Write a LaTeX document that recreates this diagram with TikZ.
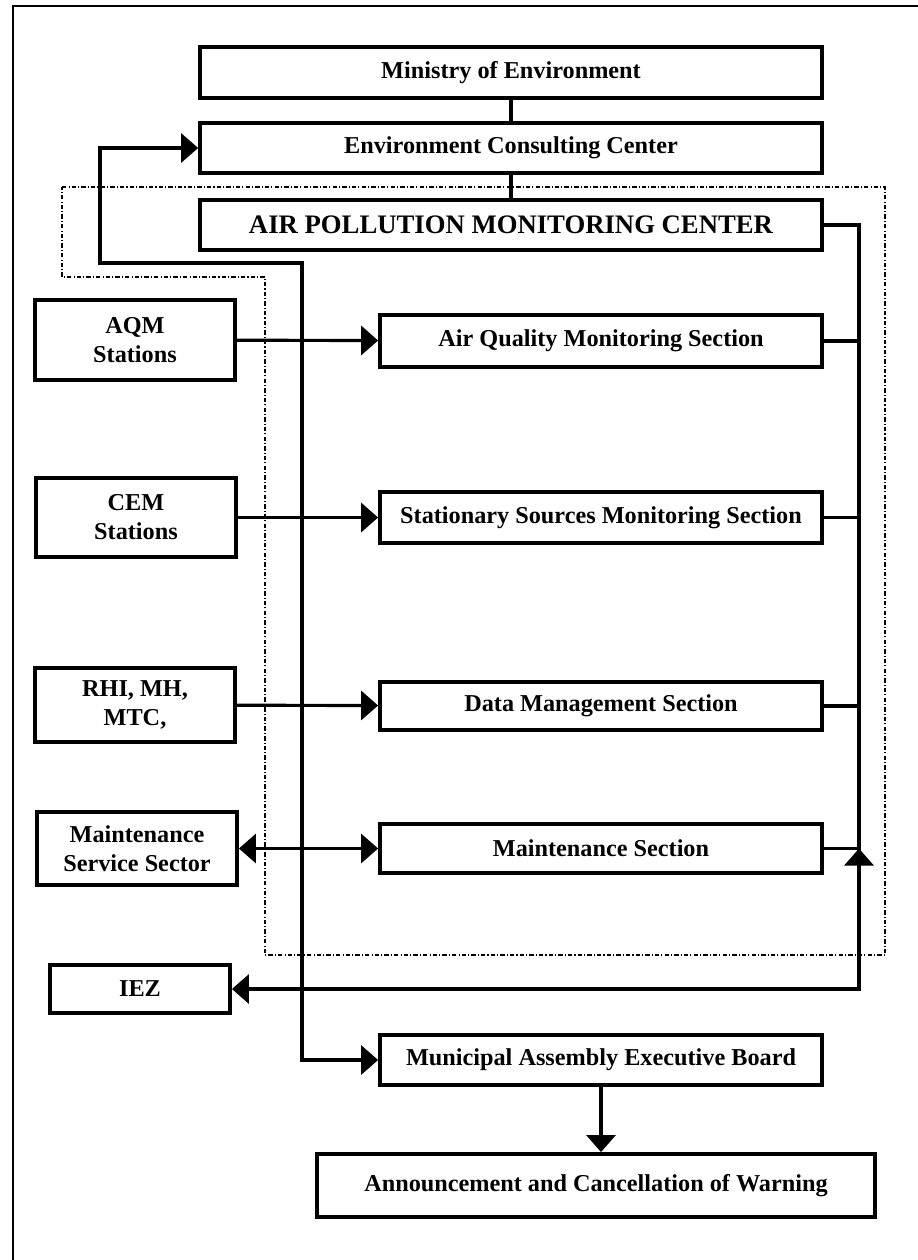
\documentclass[tikz,border=0pt]{standalone}
\usepackage{fontspec}
\setmainfont{Liberation Serif}
\usetikzlibrary{arrows.meta}

\begin{document}
\begin{tikzpicture}[x=0.02cm,y=-0.02cm,
  >={Triangle[length=0.34cm,width=0.58cm]},
  unitbox/.style={draw,line width=2.2pt,align=center,inner sep=2pt,
    font=\bfseries\fontsize{13.8}{16.5}\selectfont},
  widebox/.style={unitbox,minimum width=12.44cm,minimum height=1cm},
  secbox/.style={unitbox,minimum width=8.84cm,minimum height=1cm},
  srcbox/.style={unitbox,minimum width=4cm},
  feed/.style={line width=1.8pt}]
\useasboundingbox (0,0) rectangle (918,1260);

%page frame
\draw[line width=1.7pt] (13,1260) -- (13,6) -- (918,6);

%center boundary
\draw[line width=0.7pt,dash pattern=on 2.5pt off 1.2pt on 0.6pt off 1.2pt]
  (62,187) -- (885,187) -- (885,955) -- (265,955) -- (265,277) -- (62,277) -- cycle;

%top chain
\node[widebox,minimum height=1.02cm] (ministry) at (511,72.5) {Ministry of Environment};
\node[widebox] (consult) at (511,148) {Environment Consulting Center};
\node[widebox,font=\bfseries\fontsize{15.2}{18}\selectfont] (apmc) at (511,225) {AIR POLLUTION MONITORING CENTER};

%sections
\node[secbox,minimum height=1.04cm] (aqms) at (601,341) {Air Quality Monitoring Section};
\node[secbox,minimum height=1.02cm] (ssms) at (601,517.5) {Stationary Sources Monitoring Section};
\node[secbox,minimum height=0.96cm] (dms) at (601,706) {Data Management Section};
\node[secbox,minimum height=0.98cm] (mts) at (601,848.5) {Maintenance Section};

%sources
\node[srcbox,minimum height=1.6cm] (aqm) at (135,340) {AQM\\Stations};
\node[srcbox,minimum height=1.58cm] (cem) at (136,517.5) {CEM\\Stations};
\node[srcbox,minimum height=1.48cm] (rhi) at (135,705) {RHI, MH,\\MTC,};
\node[srcbox,minimum height=1.46cm] (mss) at (137,848.5) {Maintenance\\Service Sector};
\node[unitbox,minimum width=3.6cm,minimum height=0.96cm] (iez) at (140,989) {IEZ};

%outputs
\node[secbox] (board) at (601,1060) {Municipal Assembly Executive Board};
\node[unitbox,minimum width=11.16cm,minimum height=1.26cm] (warn) at (596,1185.5) {Announcement and Cancellation of Warning};

%bends
\coordinate (loopL) at (100,263);
\coordinate (loopR) at (302,263);
\coordinate (busT) at (859,225);
\coordinate (busB) at (859,989);

%chain links
\draw[feed] (ministry) -- (consult);
\draw[feed] (consult) -- (apmc);
\draw[feed,<->] (consult.west) -| (loopL) -- (loopR) |- (board.west);

%inputs
\draw[feed,->] (aqm) -- (aqms);
\draw[feed,->] (cem) -- (ssms);
\draw[feed,->] (rhi) -- (dms);
\draw[feed,<->] (mss) -- (mts);

%right bus
\draw[feed,->] (apmc.east) -- (busT) -- (busB) -- (iez.east);
\draw[feed] (aqms.east) -- (aqms.east -| busT);
\draw[feed] (ssms.east) -- (ssms.east -| busT);
\draw[feed] (dms.east) -- (dms.east -| busT);
\draw[feed] (mts.east) -- (mts.east -| busT);
\draw[feed,->] (busB) -- (mts.east -| busB);

%warning
\draw[feed,->] (board.south) -- (board.south |- warn.north);
\end{tikzpicture}
\end{document}
